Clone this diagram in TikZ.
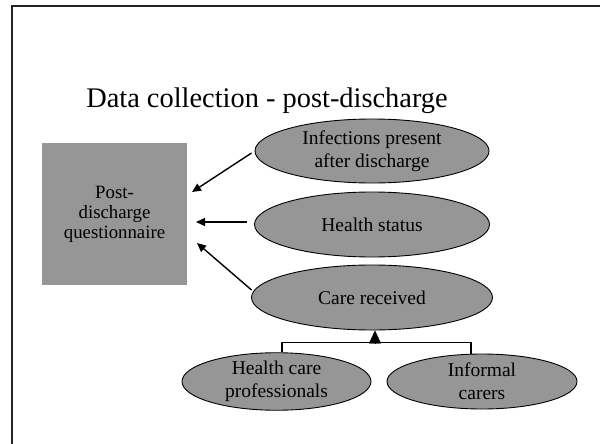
\documentclass[tikz,border=0pt]{standalone}
\usepackage{fontspec}
\setmainfont{Liberation Serif}
\usetikzlibrary{shapes.geometric,arrows.meta}
\definecolor{boxgray}{RGB}{150,150,150}
\definecolor{framec}{RGB}{35,35,35}
\tikzset{
  oval/.style={ellipse, draw=black, line width=0.9pt, fill=boxgray, inner sep=0pt, align=center,
    font=\fontsize{19.5}{23}\selectfont},
  qbox/.style={rectangle, fill=boxgray, inner sep=0pt, align=center, minimum width=145pt, minimum height=142pt,
    font=\fontsize{18.8}{20}\selectfont},
  arr/.style={line width=1.4pt, -{Triangle[length=9pt,width=8pt]}},
  tree/.style={line width=1.4pt},
}
\begin{document}
\begin{tikzpicture}[x=1pt,y=-1pt]
\useasboundingbox (0,0) rectangle (600,444);
\draw[framec, line width=2pt] (12,444) -- (12,6) -- (600,6);
\node[font=\fontsize{28.4}{32}\selectfont, anchor=base] (title) at (267,107) {Data collection - post-discharge};
\node[qbox] (q) at (114.5,214) {Post-\\discharge\\questionnaire};
\node[oval, minimum width=234pt, minimum height=64pt] (e1) at (372,151) {Infections present\\after discharge};
\node[oval, minimum width=235pt, minimum height=65pt] (e2) at (372,224.5) {Health status};
\node[oval, minimum width=241pt, minimum height=65pt] (e3) at (372,297.5) {Care received};
\node[oval, minimum width=189pt, minimum height=55pt] (hcp) at (276.5,381.5) {Health care\\professionals};
\node[oval, minimum width=190pt, minimum height=55pt] (ic) at (482,381.5) {Informal\\carers};
\coordinate (t1) at (192,192);
\coordinate (t2) at (196,222);
\coordinate (t3) at (197,243);
\draw[arr] ([shift={(-3pt,-2pt)}]e1.west) -- (t1);
\draw[arr] ([shift={(-7pt,2.5pt)}]e2.west) -- (t2);
\draw[arr] ([shift={(0.5pt,7.5pt)}]e3.west) -- (t3);
\draw[tree] ([xshift=5.5pt]hcp.north) -- ++(0,-10) -| ([xshift=-11pt]ic.north);
\draw[-{Triangle[length=13pt,width=12pt]}] (375,344) -- ([xshift=3pt]e3.south);
\end{tikzpicture}
\end{document}
